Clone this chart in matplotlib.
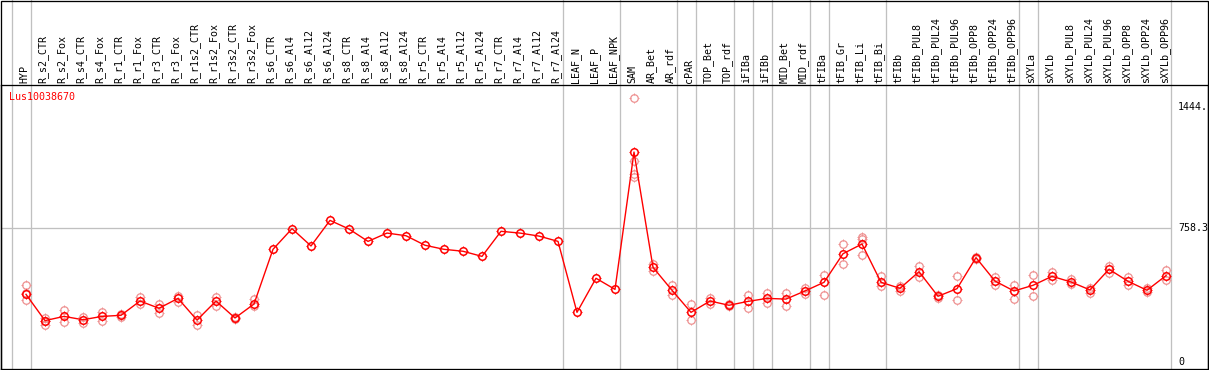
#!/usr/bin/env python3
"""Expression profile of Lus10038670 across tissues / treatments."""

import numpy as np
import matplotlib

matplotlib.use("Agg")
import matplotlib.pyplot as plt
from matplotlib.path import Path
from matplotlib.patches import Rectangle
from matplotlib.transforms import blended_transform_factory

GENE = "Lus10038670"

samples = [
    "HYP", "R_s2_CTR", "R_s2_Fox", "R_s4_CTR", "R_s4_Fox", "R_r1_CTR", "R_r1_Fox",
    "R_r3_CTR", "R_r3_Fox", "R_r1s2_CTR", "R_r1s2_Fox", "R_r3s2_CTR", "R_r3s2_Fox",
    "R_s6_CTR", "R_s6_Al4", "R_s6_Al12", "R_s6_Al24", "R_s8_CTR", "R_s8_Al4",
    "R_s8_Al12", "R_s8_Al24", "R_r5_CTR", "R_r5_Al4", "R_r5_Al12", "R_r5_Al24",
    "R_r7_CTR", "R_r7_Al4", "R_r7_Al12", "R_r7_Al24", "LEAF_N", "LEAF_P", "LEAF_NPK",
    "SAM", "AR_Bet", "AR_rdf", "cPAR", "TOP_Bet", "TOP_rdf", "iFIBa", "iFIBb",
    "MID_Bet", "MID_rdf", "tFIBa", "tFIB_Gr", "tFIB_Li", "tFIB_Bi", "tFIBb",
    "tFIBb_PUL8", "tFIBb_PUL24", "tFIBb_PUL96", "tFIBb_OPP8", "tFIBb_OPP24",
    "tFIBb_OPP96", "sXYLa", "sXYLb", "sXYLb_PUL8", "sXYLb_PUL24", "sXYLb_PUL96",
    "sXYLb_OPP8", "sXYLb_OPP24", "sXYLb_OPP96",
]

mean_vals = [
    384, 235, 259, 240, 259, 265, 346, 305, 361, 238, 346, 250, 329,
    639, 756, 658, 803, 754, 684, 731, 716, 662, 639, 628, 599, 741, 731, 714, 684,
    282, 475, 412, 1190,
    537, 407, 282, 346, 322, 344, 361, 357, 403, 452, 614, 669, 452, 418, 512,
    373, 416, 592, 459, 403, 435, 486, 454, 409, 526, 458, 407, 490,
]

rep_vals = [
    [437, 352, 390], [248, 210, 232], [295, 225], [254, 223], [282, 235],
    [272, 258], [367, 327], [331, 280], [376, 342], [265, 210], [367, 320],
    [254, 246], [357, 318],
    [], [], [], [], [], [], [], [], [], [], [], [], [], [], [], [], [], [], [],
    [1495, 1139, 1067, 1047],
    [556, 516], [437, 378], [327, 238], [361, 329], [328, 316], [380, 305],
    [393, 335], [390, 320], [418, 388], [493, 378], [669, 554], [707, 696, 605],
    [486, 433], [430, 405], [546, 484], [380, 366], [488, 350], [598, 586],
    [480, 437], [437, 359], [493, 373], [512, 465], [468, 440], [422, 392],
    [543, 507], [484, 437], [418, 396], [522, 465],
]

# group separators: drawn just after these sample indices
group_ends = [-1, 0, 28, 31, 34, 35, 37, 38, 39, 41, 42, 45, 52, 53, 60]

y_ticks = [1444.4, 758.3, 0]
y_tick_labels = ["1444.", "758.3", "0"]

W, H, DPI = 1209, 370, 100
MONO = "DejaVu Sans Mono"
RED = "#ff0000"
PINK = "#ee9090"
GRID = "#c0c0c0"
PX = 72.0 / DPI  # one pixel in points


def tick_marker():
    verts = [(0, 0.7), (0, 1), (0, -0.7), (0, -1), (0.7, 0), (1, 0), (-0.7, 0), (-1, 0)]
    codes = [Path.MOVETO, Path.LINETO] * 4
    return Path(verts, codes)


def main():
    fig = plt.figure(figsize=(W / DPI, H / DPI), dpi=DPI)

    # plot area in pixels: x 1..1208, y 85..369 (from top)
    left, right, top, bottom = 1, 1208, 85, 369
    ax = fig.add_axes([left / W, 1 - bottom / H, (right - left) / W, (bottom - top) / H])

    x0, dx = 26.0, 19.0
    y_zero, y_scale = 362.1, 0.1765
    ax.set_xlim((left - x0) / dx, (right - x0) / dx)
    ax.set_ylim((y_zero - bottom) / y_scale, (y_zero - top) / y_scale)
    ax.set_xticks([])
    ax.set_yticks([])
    for sp in ax.spines.values():
        sp.set_linewidth(1.3 * PX)
        sp.set_color("black")

    idx = np.arange(len(samples))
    x_sep_end = (1170.7 - x0) / dx

    # horizontal reference line
    ax.hlines(758.3, ax.get_xlim()[0], x_sep_end, color=GRID, linewidth=1.3 * PX, zorder=1)

    # group separators spanning the full figure height
    trans = blended_transform_factory(ax.transData, fig.transFigure)
    for g in group_ends:
        ax.plot([g + 0.24, g + 0.24], [0, 1], transform=trans, color=GRID,
                linewidth=1.3 * PX, clip_on=False, zorder=1)

    tm = tick_marker()
    # replicates
    for i, reps in enumerate(rep_vals):
        if not reps:
            continue
        xs = np.full(len(reps), i)
        ax.plot(xs, reps, linestyle="none", marker="o", markersize=5.4,
                markerfacecolor="none", markeredgecolor=PINK, markeredgewidth=0.9, zorder=2)
        ax.plot(xs, reps, linestyle="none", marker=tm, markersize=7.2,
                markeredgecolor=PINK, markeredgewidth=0.7, zorder=2)

    # mean profile
    ax.plot(idx, mean_vals, color=RED, linewidth=1.0, zorder=3)
    ax.plot(idx, mean_vals, linestyle="none", marker="o", markersize=5.4,
            markerfacecolor="none", markeredgecolor=RED, markeredgewidth=1.1, zorder=4)
    ax.plot(idx, mean_vals, linestyle="none", marker=tm, markersize=7.4,
            markeredgecolor=RED, markeredgewidth=0.8, zorder=4)

    # value labels at the right
    for v, lab in zip(y_ticks, y_tick_labels):
        ax.text((1178 - x0) / dx, v, lab, ha="left", va="center",
                family=MONO, fontsize=7.2, color="black", clip_on=False)

    # sample labels in the header
    for i, name in enumerate(samples):
        ax.text(i - 0.1, 1 - 83 / H, name, rotation=90, ha="center", va="bottom",
                family=MONO, fontsize=7.2, color="black", transform=trans,
                clip_on=False)

    fig.text(9.3 / W, 1 - 97 / H, GENE, ha="left", va="center", family=MONO,
             fontsize=7.2, color=RED)

    # outer frame around the whole picture
    fig.add_artist(Rectangle((1.0 / W, 0.5 / H), (W - 2.0) / W, (H - 1.0) / H,
                             transform=fig.transFigure, fill=False,
                             edgecolor="black", linewidth=1.3 * PX, zorder=10))

    fig.savefig("out.png", dpi=DPI)
    plt.close(fig)


if __name__ == "__main__":
    main()
